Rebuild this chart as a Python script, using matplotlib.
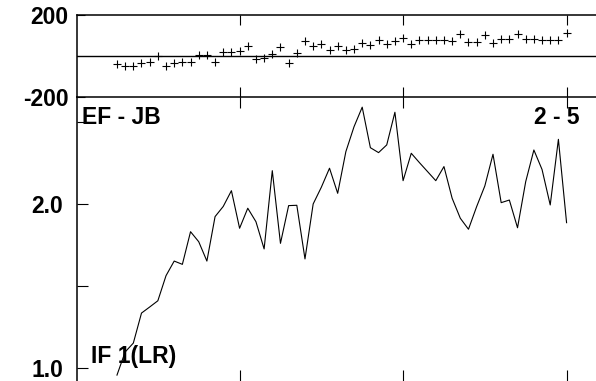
import numpy as np
import matplotlib
matplotlib.use("Agg")
import matplotlib.pyplot as plt

plt.rcParams['font.family'] = ['Liberation Sans', 'DejaVu Sans']
plt.rcParams['font.weight'] = 'bold'

# spread (top panel), one value per period
spread = [-39, -47, -47, -33, -28, 0, -47, -33, -28, -31,
          5, 5, -28, 21, 21, 26, 49, -16, -8, 10,
          46, -36, 16, 75, 50, 59, 31, 50, 30, 33,
          62, 55, 80, 59, 74, 88, 58, 80, 79, 79,
          79, 75, 109, 68, 68, 103, 62, 83, 83, 106,
          85, 85, 80, 80, 80, 111]

# index (bottom panel)
index_lr = [0.957, 1.098, 1.152, 1.335, 1.372, 1.41, 1.563, 1.652, 1.632, 1.831,
            1.77, 1.652, 1.923, 1.985, 2.081, 1.852, 1.974, 1.892, 1.726, 2.203,
            1.76, 1.99, 1.992, 1.665, 2.0, 2.102, 2.218, 2.065, 2.319, 2.471,
            2.59, 2.343, 2.313, 2.36, 2.559, 2.142, 2.309, 2.252, 2.197, 2.142,
            2.228, 2.035, 1.913, 1.846, 1.984, 2.11, 2.303, 2.008, 2.024, 1.855,
            2.136, 2.329, 2.21, 1.994, 2.394, 1.886]

x = np.arange(len(index_lr))
xticks = [15, 35, 55]
top_ticks = [-200, 200]
top_labels = ['-200', '200']
bot_ticks = [1.0, 1.5, 2.0, 2.5]
bot_labels = ['1.0', '', '2.0', '']

W, H = 596, 381
fs = 16.5
fig = plt.figure(figsize=(W / 100, H / 100), dpi=100)

ax2 = fig.add_axes([77 / W, 0, 1 - 77 / W, 284 / H])
ax1 = fig.add_axes([77 / W, 284 / H, 1 - 77 / W, 82 / H])
ax2.patch.set_visible(False)
ax1.patch.set_visible(False)

xlim = (-4.89, 58.6)

# top panel
ax1.plot(x, spread, '+', color='black', ms=6, mew=0.8)
ax1.axhline(0, color='black', lw=1)
ax1.set_xlim(xlim)
ax1.set_ylim(-200, 200)
ax1.set_yticks(top_ticks)
ax1.set_yticklabels(top_labels)
ax1.set_xticks(xticks)
ax1.tick_params(axis='x', direction='in', top=True, bottom=True, length=7,
                width=0.8, labelbottom=False)
ax1.tick_params(axis='y', direction='in', length=6, width=0.8, pad=6,
                labelsize=fs)
ax1.spines['right'].set_visible(False)
for s in ['top', 'bottom', 'left']:
    ax1.spines[s].set_linewidth(1.1)

# bottom panel
ax2.plot(x, index_lr, color='black', lw=0.8)
ax2.set_xlim(xlim)
ax2.set_ylim(0.921, 2.652)
ax2.set_yticks(bot_ticks)
ax2.set_yticklabels(bot_labels)
ax2.set_xticks(xticks)
ax2.tick_params(axis='x', direction='in', top=True, bottom=True, length=8,
                width=0.8, labelbottom=False)
ax2.tick_params(axis='y', direction='in', length=8, width=0.8, pad=10,
                labelsize=fs)
ax2.spines['right'].set_visible(False)
ax2.spines['bottom'].set_visible(False)
ax2.spines['top'].set_visible(False)
ax2.spines['left'].set_linewidth(1.1)

fig.text(82 / W, 1 - 117 / H, 'EF - JB', fontsize=fs, fontweight='bold',
         va='center', ha='left')
fig.text(580 / W, 1 - 117 / H, '2 - 5', fontsize=fs, fontweight='bold',
         va='center', ha='right')
fig.text(91 / W, 1 - 357 / H, 'IF 1(LR)', fontsize=fs, fontweight='bold',
         va='center', ha='left')

fig.savefig('out.png', dpi=100)
